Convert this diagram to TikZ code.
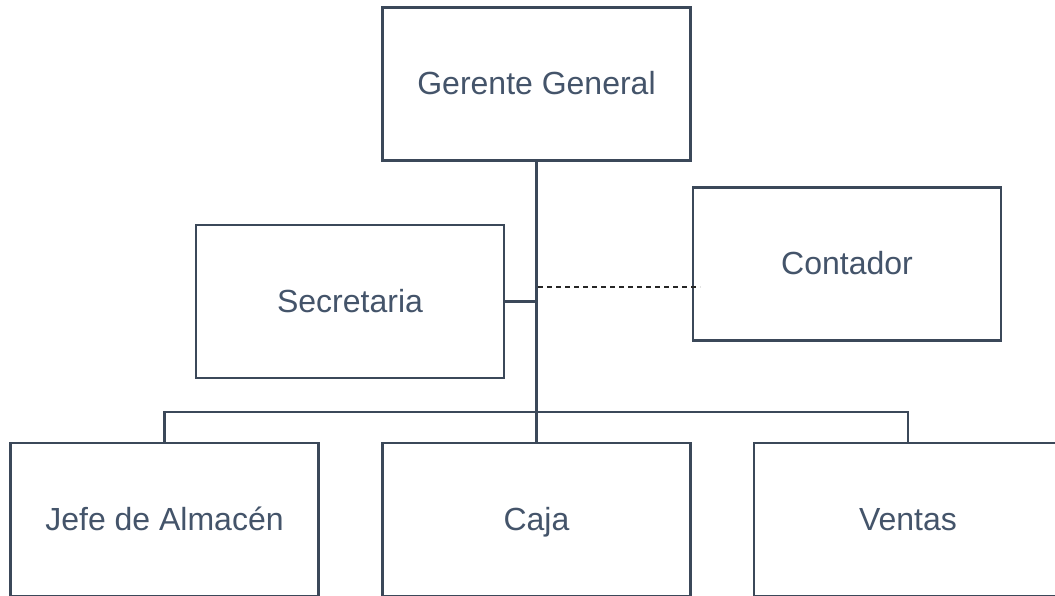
\documentclass[tikz,border=0pt]{standalone}
\usepackage{fontspec}
\setmainfont{Liberation Sans}
\definecolor{linec}{HTML}{3B4859}
\definecolor{textc}{HTML}{44546A}
\begin{document}
\begin{tikzpicture}[x=1pt,y=-1pt,
  box/.style={draw=linec,line width=2.8pt,fill=white,minimum width=308pt,minimum height=153pt,
    inner sep=0pt,text=textc,font=\fontsize{32}{38}\selectfont,text height=23pt,text depth=2pt},
  conn/.style={draw=linec,line width=2.8pt},
  dashconn/.style={draw=black!85,line width=1.1pt,dash pattern=on 5pt off 4pt}]
\useasboundingbox (0,0) rectangle (1055,595);
\clip (0,0) rectangle (1055,595);
\node[box] (gg) at (536.5,84) {Gerente General};
\node[box] (sec) at (350,301.5) {Secretaria};
\node[box] (ct) at (847,264) {Contador};
\node[box] (ja) at (164.5,519.5) {Jefe de Almac\'en};
\node[box] (cj) at (536.5,519.5) {Caja};
\node[box] (vt) at (908,519.5) {Ventas};
\coordinate (bus) at (536.5,412);
\coordinate (dstart) at (538,287);
\coordinate (dend) at (700,287);
\draw[conn] (gg.south) -- (cj.north);
\draw[conn] (sec.east) -- (sec.east -| gg.south);
\draw[conn] (ja.north) -- (ja.north |- bus) -- (vt.north |- bus) -- (vt.north);
\draw[dashconn] (dstart) -- (dend);
\end{tikzpicture}
\end{document}
